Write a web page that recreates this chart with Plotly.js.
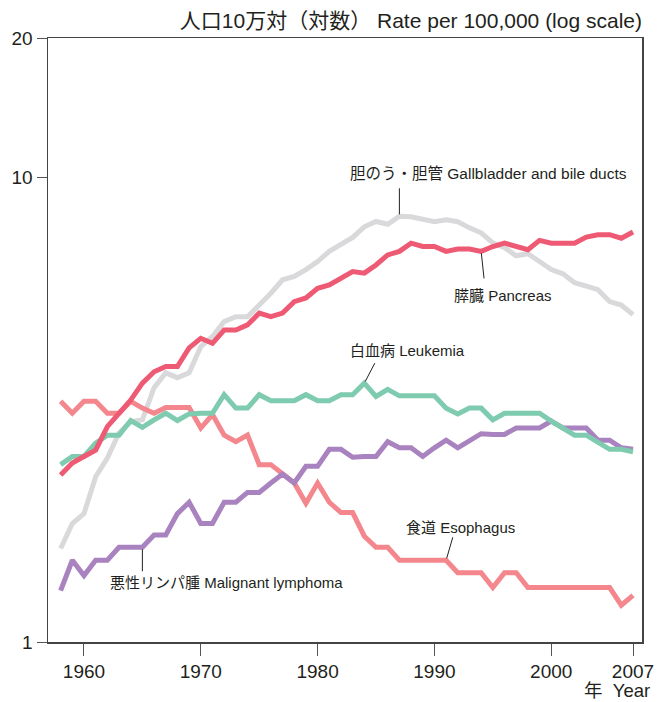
<!DOCTYPE html>
<html>
<head>
<meta charset="utf-8">
<script src="https://cdn.plot.ly/plotly-3.0.1.min.js"></script>
<style>
html,body{margin:0;padding:0;background:#fff;}
#chart{width:665px;height:702px;}
</style>
</head>
<body>
<div id="chart"></div>
<script>
// ---- data ----
const years = [1958,1959,1960,1961,1962,1963,1964,1965,1966,1967,
               1968,1969,1970,1971,1972,1973,1974,1975,1976,1977,
               1978,1979,1980,1981,1982,1983,1984,1985,1986,1987,
               1988,1989,1990,1991,1992,1993,1994,1995,1996,1997,
               1998,1999,2000,2001,2002,2003,2004,2005,2006,2007];

const gallbladder = [1.59,1.80,1.89,2.27,2.49,2.82,2.98,3.01,3.53,3.80,
                     3.71,3.80,4.33,4.55,4.90,5.02,5.02,5.32,5.64,6.03,
                     6.13,6.34,6.60,6.94,7.17,7.44,7.84,8.05,7.94,8.26,
                     8.24,8.12,8.04,8.12,8.04,7.80,7.61,7.24,7.07,6.79,
                     6.86,6.60,6.34,6.21,5.94,5.84,5.74,5.41,5.32,5.07];

const pancreas = [2.29,2.43,2.51,2.59,2.91,3.11,3.32,3.61,3.82,3.92,
                  3.92,4.30,4.51,4.40,4.70,4.70,4.82,5.11,5.02,5.11,
                  5.41,5.51,5.78,5.88,6.08,6.28,6.23,6.49,6.82,6.94,
                  7.23,7.11,7.11,6.94,7.02,7.02,6.94,7.11,7.23,7.11,
                  7.00,7.33,7.23,7.23,7.23,7.45,7.54,7.54,7.41,7.64];

const leukemia = [2.41,2.51,2.51,2.68,2.79,2.79,3.00,2.90,3.01,3.11,
                  3.00,3.10,3.11,3.11,3.41,3.19,3.19,3.41,3.31,3.31,
                  3.31,3.41,3.31,3.31,3.41,3.41,3.61,3.38,3.50,3.39,
                  3.39,3.39,3.39,3.19,3.10,3.19,3.19,3.01,3.11,3.11,
                  3.11,3.11,2.99,2.89,2.79,2.79,2.69,2.60,2.60,2.57];

const esophagus = [3.30,3.11,3.30,3.30,3.11,3.11,3.30,3.19,3.11,3.20,
                   3.20,3.20,2.89,3.09,2.79,2.70,2.79,2.41,2.41,2.31,
                   2.20,1.99,2.20,2.00,1.90,1.90,1.69,1.60,1.60,1.50,
                   1.50,1.50,1.50,1.50,1.41,1.41,1.41,1.31,1.41,1.41,
                   1.31,1.31,1.31,1.31,1.31,1.31,1.31,1.31,1.20,1.26];

const lymphoma = [1.29,1.50,1.39,1.50,1.50,1.60,1.60,1.60,1.70,1.70,
                  1.89,2.00,1.80,1.80,2.00,2.00,2.10,2.10,2.20,2.30,
                  2.20,2.39,2.39,2.60,2.60,2.50,2.51,2.51,2.70,2.62,
                  2.62,2.51,2.62,2.72,2.62,2.72,2.81,2.80,2.80,2.89,
                  2.89,2.89,2.99,2.89,2.89,2.89,2.72,2.72,2.62,2.60];

const labels = {
  gallbladder: '胆のう・胆管 Gallbladder and bile ducts',
  pancreas: '膵臓 Pancreas',
  leukemia: '白血病 Leukemia',
  esophagus: '食道 Esophagus',
  lymphoma: '悪性リンパ腫 Malignant lymphoma'
};
const yTickVals = [1, 10, 20];
const yTickText = ['1', '10', '20'];
const xTickVals = [1960, 1970, 1980, 1990, 2000, 2007];
const xTickText = ['1960', '1970', '1980', '1990', '2000', '2007'];
const yTitle = '人口10万対（対数） Rate per 100,000 (log scale)';
const xTitle = '年  Year';

// ---- styling ----
const FONT = '"Liberation Sans", Arial, "Noto Sans CJK JP", sans-serif';
const TXT = '#231f20';
const colors = {
  gallbladder: '#d9d9db',
  esophagus: '#f4878d',
  lymphoma: '#a983bf',
  leukemia: '#7ecbb0',
  pancreas: '#ee5a73'
};

function line(y, c) {
  return {x: years, y: y, type: 'scatter', mode: 'lines',
          line: {color: c, width: 5, shape: 'linear'}, hoverinfo: 'skip', showlegend: false};
}
const traces = [
  line(gallbladder, colors.gallbladder),
  line(esophagus, colors.esophagus),
  line(lymphoma, colors.lymphoma),
  line(leukemia, colors.leukemia),
  line(pancreas, colors.pancreas)
];

function idx(y) { return years.indexOf(y); }
function leader(series, yr, ax, ay) {
  return {x: yr, y: Math.log10(series[idx(yr)]), xref: 'x', yref: 'y',
          text: ' ', font: {size: 1}, borderpad: 0,
          showarrow: true, arrowhead: 0, arrowwidth: 1, arrowcolor: '#222',
          standoff: 2, ax: ax, ay: ay};
}
function label(series, yr, txt, xs, ys, sz) {
  return {x: yr, y: Math.log10(series[idx(yr)]), xref: 'x', yref: 'y',
          text: txt, showarrow: false, xanchor: 'left', yanchor: 'middle',
          xshift: xs, yshift: ys, font: {family: FONT, size: sz || 15, color: TXT}};
}

const annotations = [
  leader(gallbladder, 1987, 0, -29),
  label(gallbladder, 1987, labels.gallbladder, -51, 42.5, 15.5),
  leader(pancreas, 1994, 3, 28),
  label(pancreas, 1994, labels.pancreas, -29, -44),
  leader(leukemia, 1984, 11, -21),
  label(leukemia, 1984, labels.leukemia, -16, 33),
  leader(esophagus, 1991, 7, -24),
  label(esophagus, 1991, labels.esophagus, -42, 33),
  leader(lymphoma, 1965, 0, 25),
  label(lymphoma, 1965, labels.lymphoma, -34, -35),
  {xref: 'paper', yref: 'paper', x: 1, y: -0.081, xshift: 10, xanchor: 'right', yanchor: 'middle',
   text: xTitle, showarrow: false, font: {family: FONT, size: 18.5, color: TXT}}
];

const layout = {
  width: 665, height: 702,
  margin: {l: 48, r: 23, t: 38, b: 60, pad: 0},
  paper_bgcolor: '#fff', plot_bgcolor: '#fff',
  font: {family: FONT, color: TXT},
  title: {text: yTitle, x: 1, xref: 'paper', xanchor: 'right',
          y: 0.970, yref: 'container', yanchor: 'middle',
          font: {family: FONT, size: 21, color: TXT}},
  showlegend: false,
  xaxis: {
    range: [1956.92, 2007.77], showgrid: false, zeroline: false,
    showline: true, linecolor: '#444', linewidth: 1.5, mirror: true,
    ticks: 'outside', ticklen: 12, tickwidth: 1, tickcolor: '#555',
    tickvals: xTickVals, ticktext: xTickText,
    tickfont: {family: FONT, size: 19, color: TXT}
  },
  yaxis: {
    type: 'log', range: [0, Math.log10(20)], showgrid: false, zeroline: false,
    showline: true, linecolor: '#444', linewidth: 1.5, mirror: true,
    ticks: 'outside', ticklen: 10, tickwidth: 1, tickcolor: '#555',
    tickvals: yTickVals, ticktext: yTickText,
    tickfont: {family: FONT, size: 19, color: TXT}
  },
  annotations: annotations
};

Plotly.newPlot('chart', traces, layout, {staticPlot: true, displayModeBar: false});
</script>
</body>
</html>
